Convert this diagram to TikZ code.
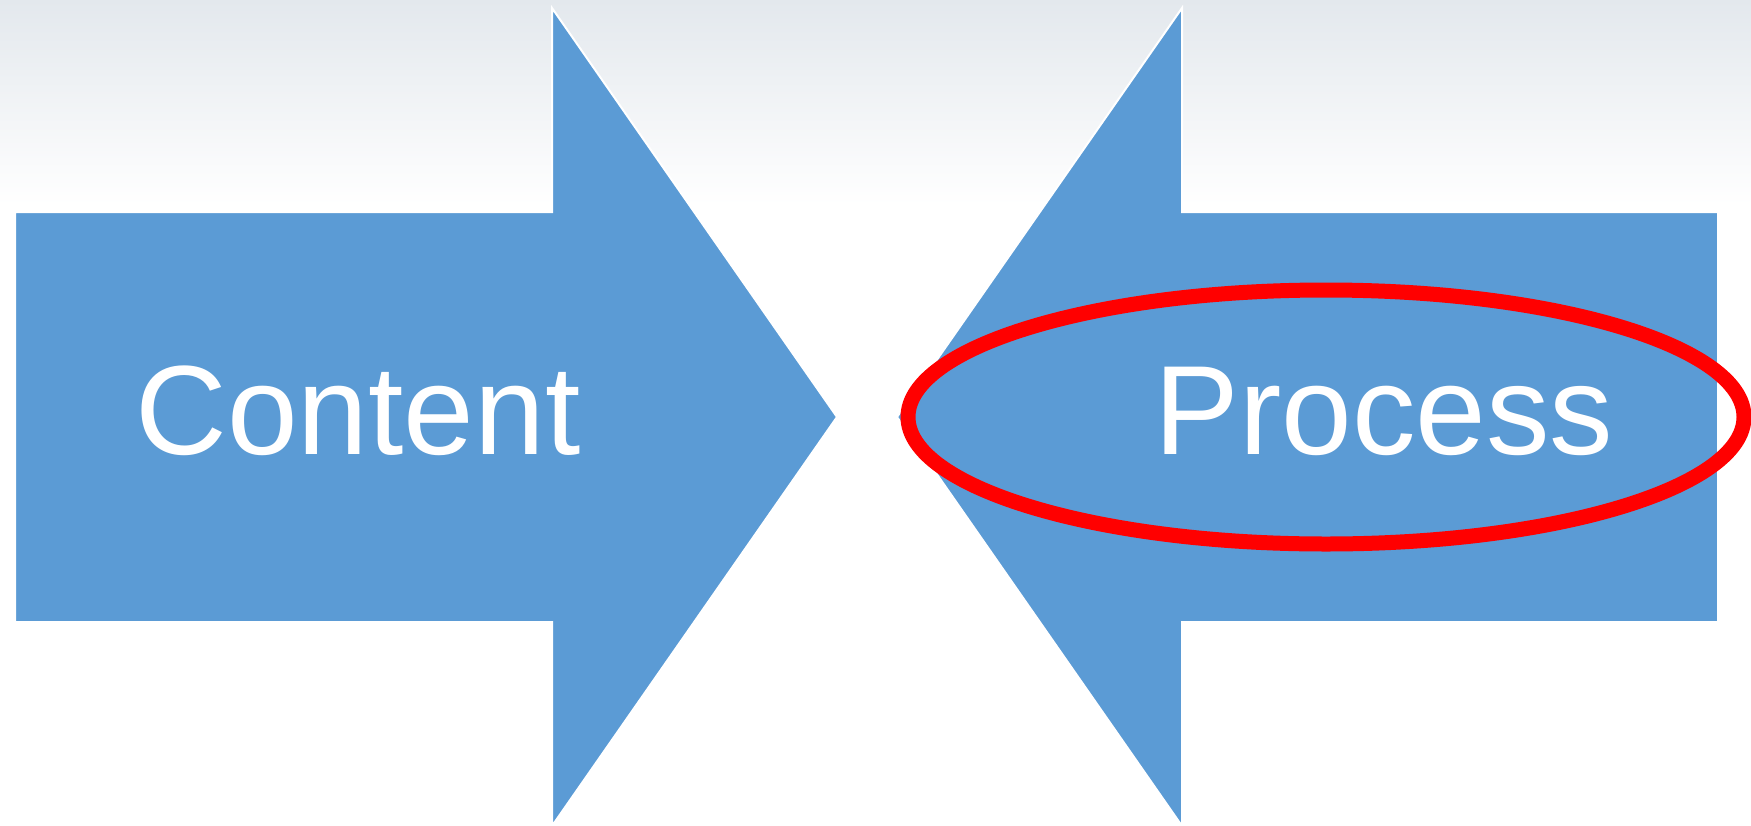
\documentclass[tikz,border=0pt]{standalone}
\usepackage{fontspec}
\setmainfont{Liberation Sans}
\definecolor{arrowblue}{HTML}{5B9BD5}
\definecolor{topgray}{HTML}{E3E8ED}
\tikzset{
  bigarrow/.style={fill=arrowblue, draw=white, line width=1pt, line join=miter},
  label/.style={text=white, font=\fontsize{63.5}{76}\selectfont, inner sep=0pt, anchor=base},
  ring/.style={draw=red, line width=7.5pt}
}
\begin{document}
\begin{tikzpicture}[x=0.5pt, y=-0.5pt]
\useasboundingbox (0,0) rectangle (1751,825);
\clip (0,0) rectangle (1751,825);
\fill[white] (0,0) rectangle (1751,825);
\shade[top color=topgray, bottom color=white] (0,0) rectangle (1751,205);
% left arrow
\draw[bigarrow] (15,212) -- (552,212) -- (552,8) -- (837,417) -- (552,826) -- (552,622) -- (15,622) -- cycle;
% right arrow
\draw[bigarrow] (1718,212) -- (1182,212) -- (1182,8) -- (897,417) -- (1182,826) -- (1182,622) -- (1718,622) -- cycle;
\node[label] (content) at (358,454) {Content};
\node[label] (process) at (1384,454) {Process};
\coordinate (ringc) at (1326,417);
\draw[ring] (ringc) ellipse [x radius=418, y radius=127];
\end{tikzpicture}
\end{document}
